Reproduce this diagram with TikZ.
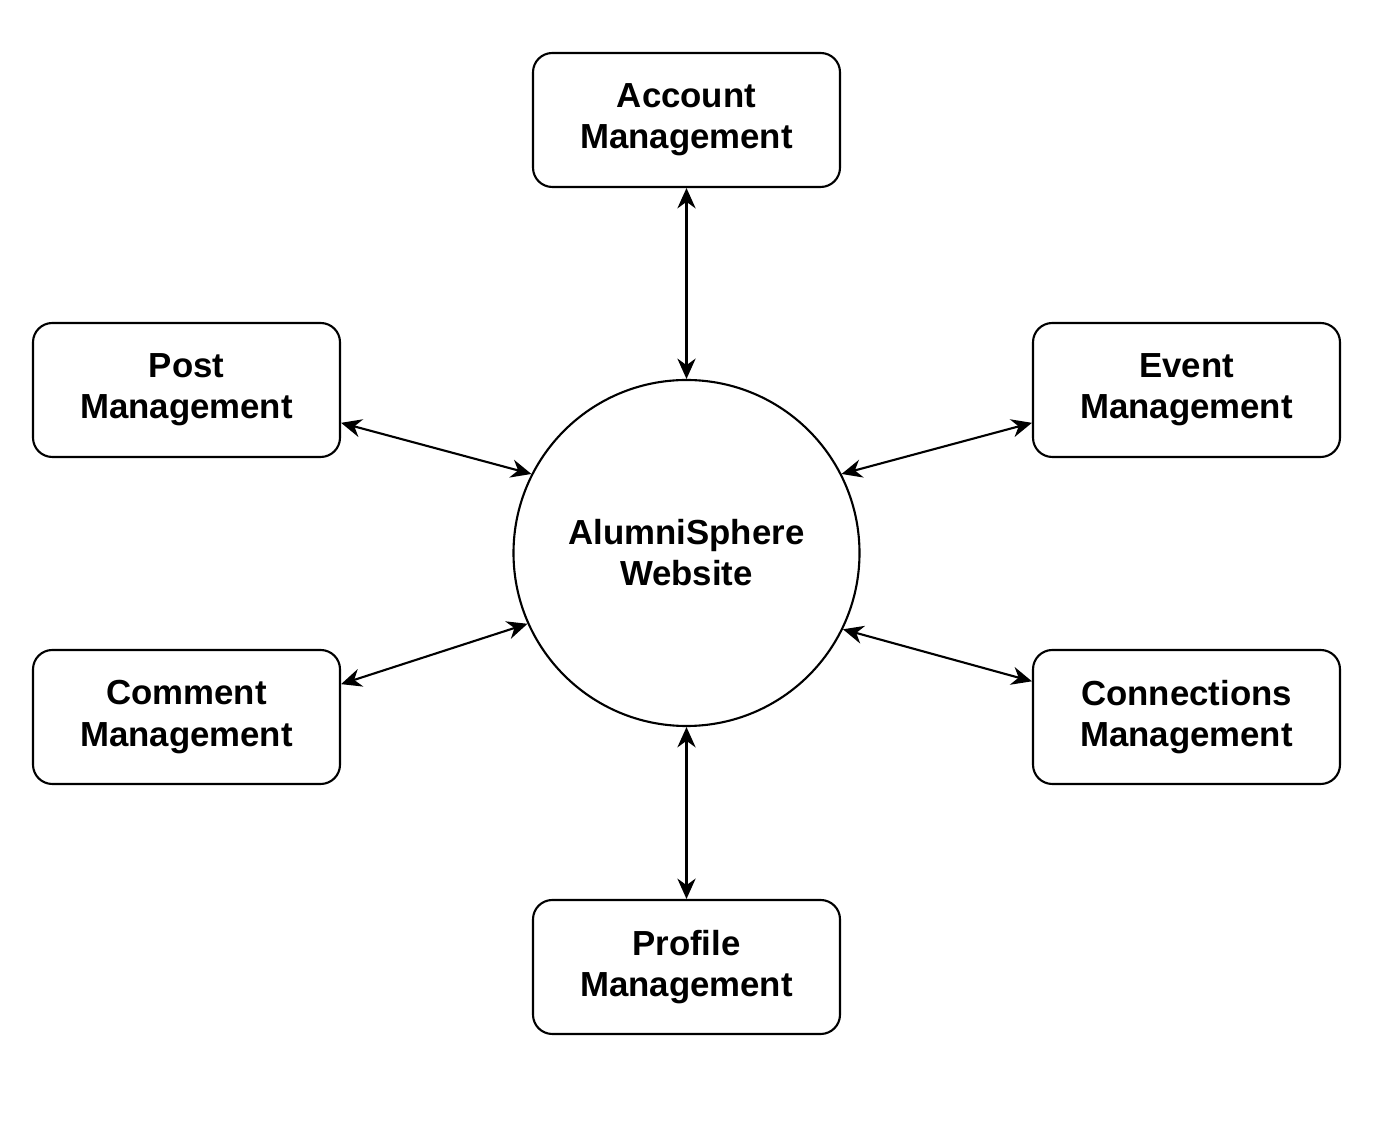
\documentclass[tikz,border=0pt]{standalone}
\usepackage{fontspec}
\setmainfont{Liberation Sans}
\usetikzlibrary{arrows.meta}

\begin{document}
\begin{tikzpicture}[
            >={Stealth[length=5.8pt, width=5.2pt]},
            line cap=round,
            module/.style={draw, line width=0.6pt, rounded corners=5.5pt,
                minimum width=3.07cm, minimum height=1.34cm,
                align=center, font=\fontsize{9.9}{11.7}\selectfont\bfseries},
            hub/.style={draw, circle, line width=0.6pt, minimum size=3.46cm,
                align=center, font=\fontsize{9.9}{11.7}\selectfont\bfseries},
            link/.style={<->, line width=0.6pt},
        ]
        \useasboundingbox (0,0) rectangle (13.88,-11.41);

        % centre
        \node[hub] (site) at (6.865,-5.53) {AlumniSphere\\Website};

        % modules round it
        \node[module] (account) at (6.865,-1.20) {Account\\Management};
        \node[module] (post) at (1.865,-3.90) {Post\\Management};
        \node[module] (event) at (11.865,-3.90) {Event\\Management};
        \node[module] (comment) at (1.865,-7.17) {Comment\\Management};
        \node[module] (connections) at (11.865,-7.17) {Connections\\Management};
        \node[module] (profile) at (6.865,-9.67) {Profile\\Management};

        \draw[link] (account.south) -- (site.north);
        \draw[link] (post.-12.8) -- (site.153.3);
        \draw[link] (event.192.8) -- (site.27.8);
        \draw[link] (comment.12.5) -- (site.204.4);
        \draw[link] (connections.167.2) -- (site.334.7);
        \draw[link] (profile.north) -- (site.south);
\end{tikzpicture}
\end{document}
